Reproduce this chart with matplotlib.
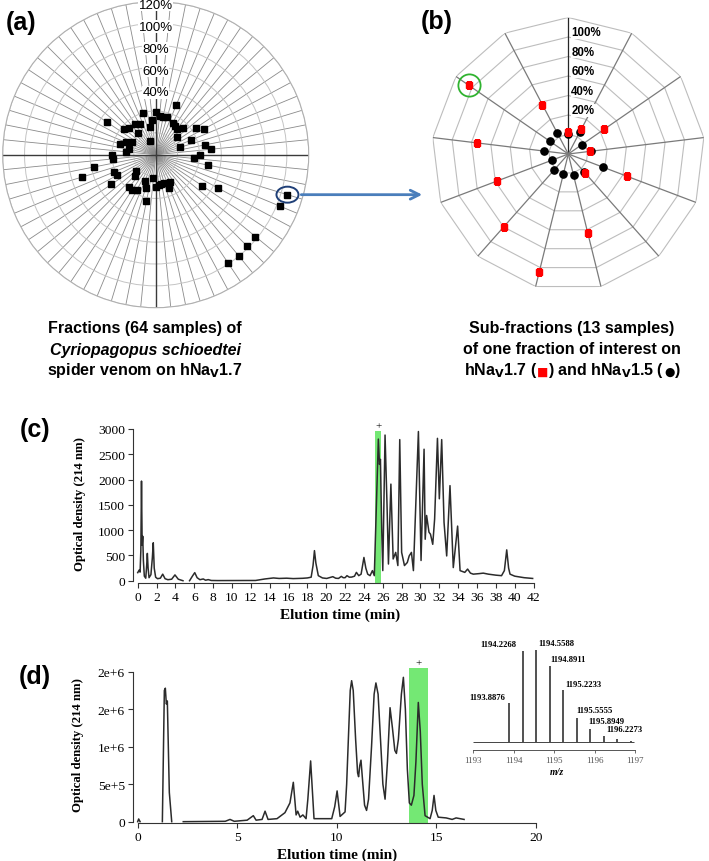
import numpy as np
import matplotlib
matplotlib.use("Agg")
import matplotlib.pyplot as plt
from matplotlib import font_manager
from matplotlib.patches import Ellipse, Rectangle, FancyArrowPatch
from matplotlib.offsetbox import TextArea, HPacker, AnnotationBbox
from matplotlib.transforms import offset_copy

W, H = 709, 862
plt.rcParams['font.family'] = 'Liberation Serif'

_names = {f.name for f in font_manager.fontManager.ttflist}
if 'Liberation Sans Narrow' in _names:
    CAP_FONT, CAP_SIZE = 'Liberation Sans Narrow', 13.5
else:
    CAP_FONT, CAP_SIZE = 'Liberation Sans', 11.5

# ---- (a) 64 venom fractions, response on hNaV1.7 (%)
fraction_pct = [18.7, 15.9, 15.2, 16, 28.8, 13, 11.1, 11.0, 14.7, 4.9, 24.2, 30.6, 14.8, 3.2, 26, 30.5,
                20.5, 15.2, 29, 106, 103, 44.9, 31.2, 98, 98, 99.7, 99.7, 8, 12.6, 7.3, 7.1, 8,
                9.9, 1.4, 23.2, 11.6, 5.9, 17.1, 19, 18.5, 7, 3.9, 28.8, 19.8, 21.4, 50.4, 37.9, 19.5,
                20.2, 7.4, 4.6, 13.8, 9.5, 4.4, 33.4, 17.7, 14.7, 5.3, 13.3, 11.4, -6.3, 20.2, 5.5, 12]
hit_fraction = 19

# ---- (b) 13 sub-fractions
sub_nav17 = [3, 8.6, 24.8, 2.7, 44, 5.5, 63, 105, 79.8, 58, 74.6, 104, 37]
sub_nav15 = [0.6, 5, -3.2, 3.6, 18, 4.8, 2.5, 1.1, 1.7, -1.6, 5, 3.4, 3.9]
hit_sub = 11

radar_min = -20
radar_rings = [0, 20, 40, 60, 80, 100, 120]
labels_a = [40, 60, 80, 100, 120]
labels_b = [20, 40, 60, 80, 100]

# ---- (c) RP-HPLC of whole venom
rt_c = [0, 0.15, 0.25, 0.33, 0.4, 0.47, 0.53, 0.6, 0.7, 0.85, 0.95, 1.02, 1.1, 1.2, 1.4, 1.55, 1.65,
        1.75, 1.9, 2.1, 2.4, 2.65, 2.9, 3.2, 3.6, 3.95, 4.3, 4.8, np.nan,
        5.5, 5.8, 6.05, 6.3, 6.6, 6.95, 7.2, 7.48, 7.8, 8.5, 10, 12.5, 13.0, 13.5, 14.4, 15.0,
        15.8, 16.5, 17.5, 18.0, 18.4, 18.6, 18.75, 18.9, 19.16, 19.6, 20.05, 20.7, 21.0, 21.3,
        21.6, 21.8, 22.0, 22.2, 22.45, 22.7, 23.0, 23.2, 23.45, 23.7, 24.0, 24.2, 24.4, 24.65,
        24.9, 25.1, 25.53, 25.65, 25.75, 25.9, 26.0, 26.24, 26.45, 26.6, 26.86, 27.1, 27.37,
        27.6, 27.8, 28.0, 28.3, 28.6, 28.8, 29.04, 29.25, 29.78, 30.06, 30.38, 30.5, 30.65,
        30.9, 31.06, 31.3, 31.5, 31.8, 32.0, 32.25, 32.5, 32.78, 33.13, 33.48, 33.94, 34.2,
        34.7, 35.0, 35.3, 35.6, 36.2, 36.66, 37.2, 38.0, 38.6, 38.9, 39.15, 39.35, 39.5, 40.0,
        41.0, 41.9]
od_c = [160, 210, 170, 600, 1970, 700, 880, 400, 90, 50, 300, 540, 250, 60, 120, 450, 750,
        250, 70, 40, 50, 130, 40, 20, 30, 115, 30, 0, np.nan,
        0, 90, 160, 60, 20, 35, 10, 22, 5, 3, 3, 5, 20, 35, 55, 45,
        50, 42, 48, 55, 70, 300, 595, 350, 100, 55, 45, 80, 50, 45,
        86, 60, 60, 100, 70, 72, 90, 165, 100, 130, 460, 250, 130, 100,
        200, 100, 2800, 2300, 2400, 900, 200, 2880, 1500, 330, 1910, 430, 560,
        300, 2790, 560, 300, 360, 490, 560, 200, 2950, 400, 2600, 820, 1290,
        960, 920, 720, 1220, 2815, 1620, 2790, 1150, 490, 1880, 260, 1080, 200,
        165, 230, 150, 130, 140, 150, 130, 110, 100, 200, 610, 250, 130, 90,
        60, 45]
window_c = (25.2, 25.8)
window_c_top = 2966

# ---- (d) purification of the active sub-fraction
rt_d = [0, 0.05, 0.12, np.nan, 1.24, 1.34, 1.39, 1.44, 1.49, 1.59, 1.71, np.nan,
        2.29, 4.4, 4.64, 4.85, 5.5, 5.81, 5.95, 6.25, 6.4, 6.55, 7.0, 7.4, 7.65, 7.82,
        7.96, 8.04, 8.16, 8.3, 8.46, 8.55, 8.69, 8.86, 9.75, 9.9, 10.02, 10.17, 10.42,
        10.5, 10.6, 10.68, 10.75, 10.83, 10.95, 11.05, 11.1, 11.16, 11.22, 11.3, 11.4,
        11.5, 11.6, 11.75, 11.88, 11.97, 12.08, 12.2, 12.32, 12.43, 12.55, 12.68, 12.8,
        12.92, 13.0, 13.1, 13.25, 13.35, 13.45, 13.55, 13.65, 13.75, 13.88, 13.98, 14.1,
        14.2, 14.3, 14.44, 14.69, 14.8, 14.89, 14.98, 15.1, 15.5, 15.8, 16.0, 16.4]
od_d = [0, 0.36e5, 0, np.nan, 0, 17.5e5, 17.8e5, 15.7e5, 16.1e5, 3.9e5, 0, np.nan,
        0, 0.05e5, 0.3e5, 0.05e5, 0.2e5, 0.8e5, 0.2e5, 0.3e5, 1.4e5, 0.3e5, 0.4e5, 1.2e5, 2.5e5, 5.25e5,
        0.9e5, 1.4e5, 0.6e5, 0.9e5, 0.4e5, 3e5, 8.1e5, 0.4e5, 0.4e5, 2e5, 4.1e5, 0.7e5, 1.3e5,
        5e5, 12e5, 17.5e5, 18.8e5, 17.5e5, 11e5, 6.5e5, 6.0e5, 7.5e5, 8.2e5, 5.5e5, 2.2e5,
        1.5e5, 3e5, 10e5, 17e5, 18.5e5, 17e5, 11e5, 5e5, 3.0e5, 8e5, 15.2e5, 12.5e5,
        9.5e5, 9.1e5, 11e5, 17e5, 19.25e5, 15e5, 7e5, 2.5e5, 2.2e5, 3.5e5, 8e5, 15.9e5,
        12e5, 5e5, 0.8e5, 0.4e5, 1.5e5, 3.5e5, 1.5e5, 0.6e5, 0.5e5, 0.3e5, 0.5e5, 0.3e5]
window_d = (13.65, 14.6)
window_d_top = 2.045e6
od_d_ticks = [0, 5e5, 1e6, 1.5e6, 2e6]
od_d_ticklabels = ['0', '5e+5', '1e+6', '2e+6', '2e+6']

# ---- MS inset
mz_peaks = [1193.8876, 1194.2268, 1194.5588, 1194.8911, 1195.2233, 1195.5555, 1195.8949, 1196.2273,
            1196.56, 1196.89]
mz_int = [42, 99, 100, 82, 56, 26, 14, 6, 3, 1.2]
mz_labels = ['1193.8876', '1194.2268', '1194.5588', '1194.8911', '1195.2233', '1195.5555',
             '1195.8949', '1196.2273']
mz_label_offsets = [(-22, 6), (-25, 7), (20, 7), (18, 7), (20, 6), (18, 8), (16, 8), (21, 7)]


def px_box(x0, y0, x1, y1):
    # pixel box (origin top-left) -> figure rect
    return [x0 / W, 1 - y1 / H, (x1 - x0) / W, (y1 - y0) / H]


def fpos(x, y):
    return x / W, 1 - y / H


fig = plt.figure(figsize=(W / 100, H / 100), dpi=100)
white_box = dict(facecolor='white', edgecolor='none', pad=0.3)

# ================= (a) =================
ax_a = fig.add_axes(px_box(2.7, 2.7, 308.7, 308.7), projection='polar')
theta_a = np.arange(len(fraction_pct)) * 2 * np.pi / len(fraction_pct)
ax_a.set_theta_zero_location('N')
ax_a.set_theta_direction(-1)
ax_a.set_ylim(radar_min, radar_rings[-1])
ax_a.set_xticks(theta_a)
ax_a.set_xticklabels([])
ax_a.set_yticks(radar_rings)
ax_a.set_yticklabels([])
ax_a.tick_params(length=0)
ax_a.xaxis.grid(True, color='#8a8a8a', lw=0.6)
ax_a.yaxis.grid(True, color='#c4c4c4', lw=0.7)
ax_a.spines['polar'].set_color('#b0b0b0')
ax_a.spines['polar'].set_linewidth(0.8)
for th in [0, np.pi / 2, np.pi, 1.5 * np.pi]:
    ax_a.plot([th, th], [radar_min, radar_rings[-1]], color='#3a3a3a', lw=1.0, zorder=2)
for v in labels_a:
    ax_a.text(0, v - 3, f'{v}%', ha='center', va='center', fontsize=9.5,
              family='Liberation Sans', zorder=3, bbox=white_box)
ax_a.plot(theta_a, fraction_pct, ls='none', marker='s', ms=4.8, color='black', zorder=5, clip_on=False)

# ================= (b) =================
ax_b = fig.add_axes(px_box(431.8, 18.5, 704.8, 291.5), projection='polar')
theta_b = np.arange(len(sub_nav17)) * 2 * np.pi / len(sub_nav17)
ax_b.set_theta_zero_location('N')
ax_b.set_theta_direction(-1)
ax_b.set_ylim(radar_min, radar_rings[-1])
ax_b.set_axis_off()
loop = np.append(theta_b, theta_b[0])
for v in radar_rings:
    ax_b.plot(loop, [v] * len(loop), color='#bdbdbd', lw=0.8, zorder=1)
for i, th in enumerate(theta_b):
    ax_b.plot([th, th], [radar_min, radar_rings[-1]], color='#262626' if i == 0 else '#7a7a7a',
              lw=0.9, zorder=2)
lab_tr = offset_copy(ax_b.transData, fig=fig, x=3, y=0, units='dots')
for v in labels_b:
    ax_b.text(0, v + 5, f'{v}%', transform=lab_tr, ha='left', va='center', fontsize=8.3,
              fontweight='bold', family='Liberation Sans', zorder=3, bbox=white_box)
ax_b.plot(theta_b, sub_nav15, ls='none', marker='o', ms=5.2, color='black', zorder=5)
ax_b.plot(theta_b, sub_nav17, ls='none', marker='s', ms=4.3, color='#ff0000', zorder=6)
ax_b.plot(theta_b[hit_sub], sub_nav17[hit_sub], marker='o', ms=16, mfc='none', mec='#2fb32f',
          mew=1.3, zorder=7)

# circle + arrow linking (a) to (b)
xd, yd = ax_a.transData.transform((theta_a[hit_fraction], fraction_pct[hit_fraction]))
fx, fy = fig.transFigure.inverted().transform((xd, yd))
fig.add_artist(Ellipse((fx, fy), 22 / W, 16 / H, transform=fig.transFigure, fill=False,
                       ec='#1f3f77', lw=1.4))
fig.add_artist(FancyArrowPatch((fx + 11 / W, fy), (425 / W, fy), transform=fig.transFigure,
                               arrowstyle='->', mutation_scale=16, color='#4a7ebb', lw=2))

# ================= captions =================
cap = dict(family=[CAP_FONT, 'DejaVu Sans'], fontsize=CAP_SIZE, fontweight='bold',
           ha='center', va='center')
fig.text(*fpos(145, 329), 'Fractions (64 samples) of', **cap)
fig.text(*fpos(145, 350), 'Cyriopagopus schioedtei', style='italic', **cap)
fig.text(*fpos(145, 371), 'spider venom on hNa$_\\mathbf{V}$1.7', **cap)
fig.text(*fpos(572, 329), 'Sub-fractions (13 samples)', **cap)
fig.text(*fpos(572, 350), 'of one fraction of interest on', **cap)
tp = dict(family=[CAP_FONT, 'DejaVu Sans'], fontsize=CAP_SIZE, fontweight='bold')
sym = dict(family='DejaVu Sans', fontsize=CAP_SIZE * 0.75)
parts = [TextArea('hNa$_\\mathbf{V}$1.7 (', textprops=tp),
         TextArea('\u25A0', textprops=dict(sym, color='#ff0000')),
         TextArea(') and hNa$_\\mathbf{V}$1.5 (', textprops=tp),
         TextArea('\u25CF', textprops=dict(sym, color='black')),
         TextArea(')', textprops=tp)]
fig.add_artist(AnnotationBbox(HPacker(children=parts, align='baseline', pad=0, sep=0),
                              fpos(572, 371), xycoords='figure fraction', frameon=False,
                              box_alignment=(0.5, 0.5), pad=0))

lab = dict(family='Liberation Sans', fontsize=18, fontweight='bold', ha='center', va='center')
fig.text(*fpos(21, 23), '(a)', **lab)
fig.text(*fpos(437, 22), '(b)', **lab)
fig.text(*fpos(35, 430), '(c)', **lab)
fig.text(*fpos(35, 677), '(d)', **lab)

green = '#74e874'
trace = '#2b2b2b'

# ================= (c) =================
ax_c = fig.add_axes(px_box(133.3, 422.4, 538.3, 584))
c_ylim = (-45, 3150)
ax_c.set_xlim(-0.47, 42.5)
ax_c.set_ylim(*c_ylim)
ax_c.add_patch(Rectangle((window_c[0], c_ylim[0]), window_c[1] - window_c[0],
                         window_c_top - c_ylim[0], color=green, lw=0, zorder=0))
ax_c.text(np.mean(window_c), window_c_top + 100, '+', ha='center', va='center', fontsize=8,
          clip_on=False)
ax_c.plot(rt_c, od_c, color=trace, lw=1.1)
ax_c.set_xticks(np.arange(0, 43, 2))
ax_c.set_yticks(np.arange(0, 3001, 500))

# ================= (d) =================
ax_d = fig.add_axes(px_box(133.3, 657.7, 541.7, 823.8))
d_ylim = (-1.5e4, 2.2e6)
ax_d.set_xlim(-0.22, 20.3)
ax_d.set_ylim(*d_ylim)
ax_d.add_patch(Rectangle((window_d[0], d_ylim[0]), window_d[1] - window_d[0],
                         window_d_top - d_ylim[0], color=green, lw=0, zorder=0))
ax_d.text(np.mean(window_d), window_d_top + 8e4, '+', ha='center', va='center', fontsize=8,
          clip_on=False)
ax_d.plot(rt_d, od_d, color=trace, lw=1.1)
ax_d.set_xticks([0, 5, 10, 15, 20])
ax_d.set_yticks(od_d_ticks)
ax_d.set_yticklabels(od_d_ticklabels)

for ax, xmax, ymax in [(ax_c, 42, 3000), (ax_d, 20, 2e6)]:
    ax.spines[['top', 'right']].set_visible(False)
    ax.spines['left'].set_bounds(0, ymax)
    ax.spines['bottom'].set_bounds(0, xmax)
    for s in ['left', 'bottom']:
        ax.spines[s].set_linewidth(0.8)
        ax.spines[s].set_color('#333333')
    ax.tick_params(direction='out', length=3.5, width=0.8, labelsize=9.7, pad=2.5,
                   color='#333333')
    ax.patch.set_alpha(0)

fig.text(*fpos(80, 504), 'Optical density (214 nm)', rotation=90, ha='center', va='center',
         fontsize=9.2, fontweight='bold')
fig.text(*fpos(78, 745), 'Optical density (214 nm)', rotation=90, ha='center', va='center',
         fontsize=9.2, fontweight='bold')
fig.text(*fpos(340, 615), 'Elution time (min)', ha='center', va='center', fontsize=11,
         fontweight='bold')
fig.text(*fpos(337, 855), 'Elution time (min)', ha='center', va='center', fontsize=11,
         fontweight='bold')

# ================= MS inset =================
ax_ms = fig.add_axes(px_box(473.3, 641.5, 635, 750.7))
ax_ms.set_xlim(1193, 1197)
ax_ms.set_ylim(-8.7, 110)
ax_ms.patch.set_alpha(0)
ax_ms.hlines(0, 1193, 1196.98, color='#444444', lw=0.7)
ax_ms.vlines(mz_peaks, 0, mz_int, color='#333333', lw=1.2)
for name, mz, h, off in zip(mz_labels, mz_peaks, mz_int, mz_label_offsets):
    ax_ms.annotate(name, xy=(mz, h), xytext=off, textcoords='offset pixels', ha='center',
                   va='center', fontsize=6.2, fontweight='bold', annotation_clip=False)
ax_ms.spines[['top', 'right', 'left']].set_visible(False)
ax_ms.spines['bottom'].set_color('#555555')
ax_ms.spines['bottom'].set_linewidth(0.7)
ax_ms.set_yticks([])
ax_ms.set_xticks(range(1193, 1198))
ax_ms.tick_params(axis='x', length=2.5, width=0.6, labelsize=6.5, pad=2, colors='#555555')
fig.text(*fpos(556.7, 772.7), 'm/z', style='italic', fontweight='bold', fontsize=7,
         ha='center', va='center')

fig.savefig('out.png', dpi=100)
